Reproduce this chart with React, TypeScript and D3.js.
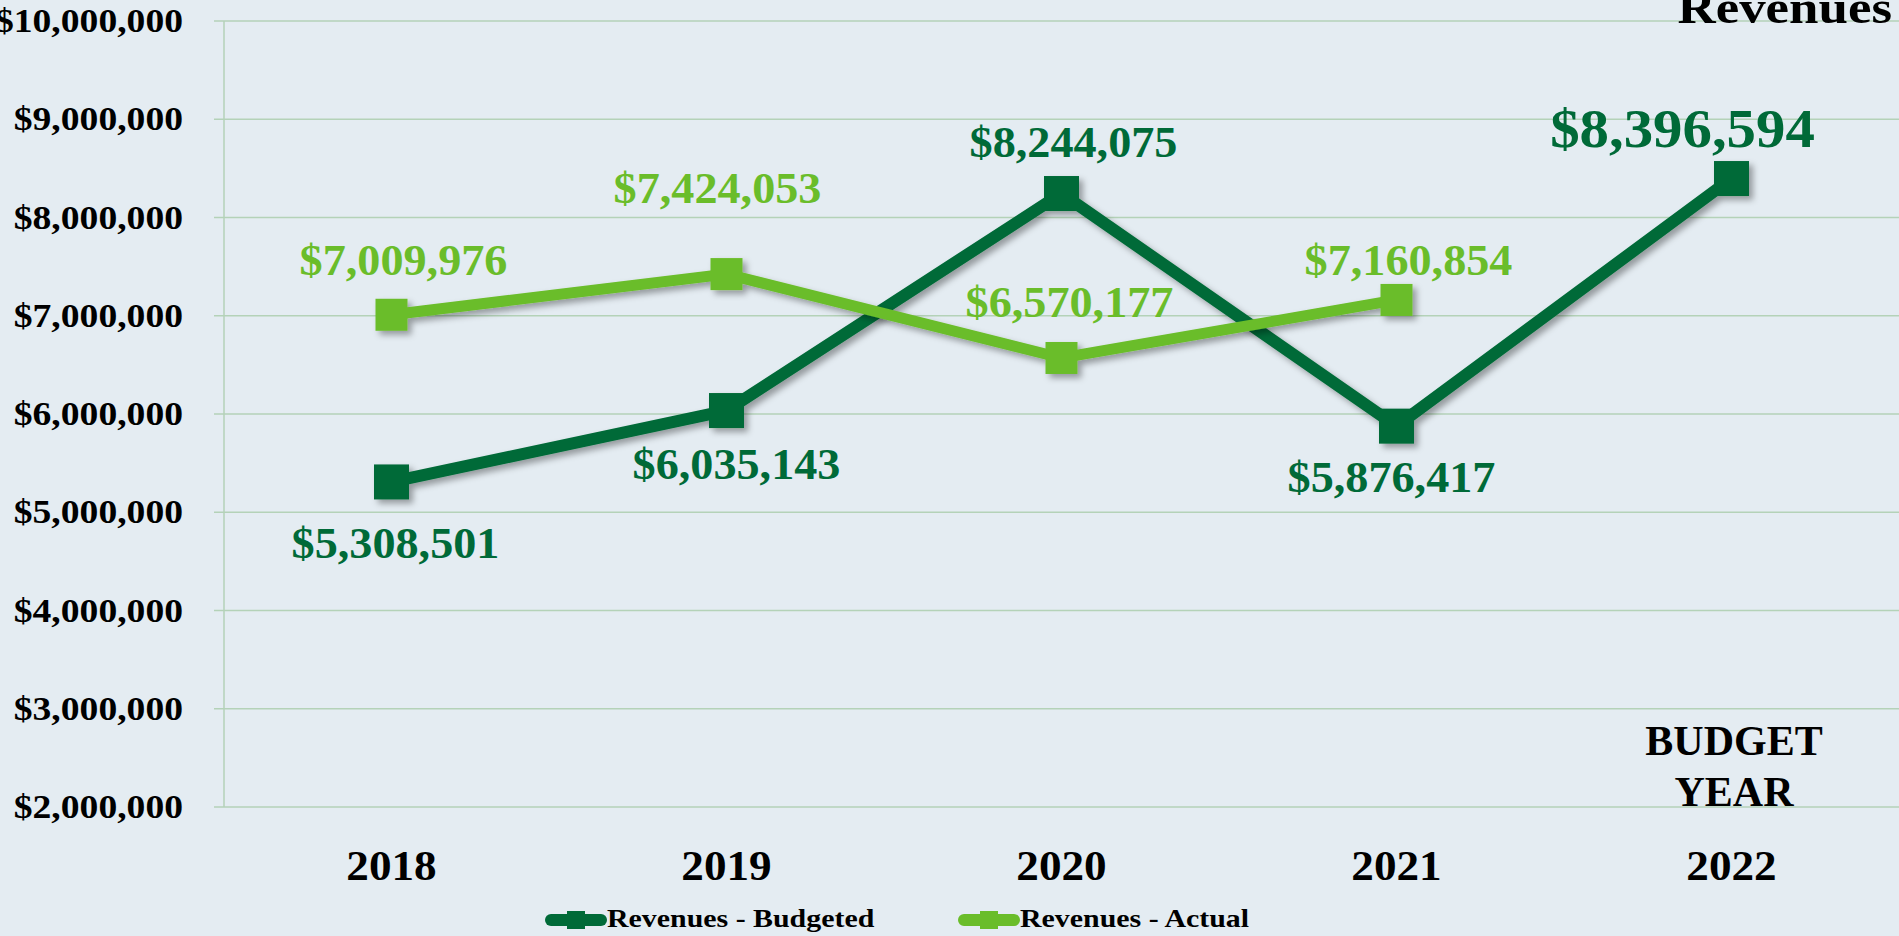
import React from 'react';
import { scaleLinear, scalePoint, line, format } from 'd3';

const years = ['2018', '2019', '2020', '2021', '2022'];
const budgeted = [5308501, 6035143, 8244075, 5876417, 8396594];
const actual = [7009976, 7424053, 6570177, 7160854];
const yTicks = [2000000, 3000000, 4000000, 5000000, 6000000, 7000000, 8000000, 9000000, 10000000];
const seriesNames = ['Revenues - Budgeted', 'Revenues - Actual'];

// label placement relative to each point (layout only)
const budgetedLabelOffsets = [[4, 76], [10, 68], [12, -37], [-5, 66], [-49, -32]];
const actualLabelOffsets = [[12, -40], [-9, -71], [8, -41], [12, -25]];

const W = 1899;
const H = 936;
const DARK = '#006a38';
const LIGHT = '#6abd2a';
const BG = '#e4ecf2';
const GRID = '#b4d2b8';
const FONT = '"Liberation Serif", "Times New Roman", serif';

const money = format('$,');

interface STextProps {
  x: number;
  y: number;
  size: number;
  sx?: number;
  anchor?: 'start' | 'middle' | 'end';
  fill?: string;
  children: React.ReactNode;
}

function SText({ x, y, size, sx = 1, anchor = 'middle', fill = '#000', children }: STextProps) {
  return (
    <text
      transform={`translate(${x},${y}) scale(${sx},1)`}
      fontFamily={FONT}
      fontWeight="bold"
      fontSize={size}
      textAnchor={anchor}
      fill={fill}
    >
      {children}
    </text>
  );
}

export default function App() {
  const left = 224;
  const top = 21;
  const bottom = 807;

  const x = scalePoint<string>().domain(years).range([left, W]).padding(0.5);
  const y = scaleLinear().domain([2000000, 10000000]).range([bottom, top]);

  const budgetPts = budgeted.map((v, i) => [x(years[i]) as number, y(v)] as [number, number]);
  const actualPts = actual.map((v, i) => [x(years[i]) as number, y(v)] as [number, number]);
  const path = line<[number, number]>();

  return (
    <svg width={W} height={H} style={{ position: 'absolute', left: 0, top: 0 }}>
      <defs>
        <filter id="shadow" x="-20%" y="-20%" width="140%" height="140%">
          <feDropShadow dx="4" dy="4" stdDeviation="3" floodColor="#000" floodOpacity="0.35" />
        </filter>
      </defs>
      <rect width={W} height={H} fill={BG} />

      {/* grid */}
      {yTicks.map((t) => (
        <line key={t} x1={214} x2={W} y1={y(t)} y2={y(t)} stroke={GRID} strokeWidth={1.5} />
      ))}
      <line x1={left} x2={left} y1={top} y2={bottom} stroke={GRID} strokeWidth={1.5} />

      {/* y axis labels */}
      {yTicks.map((t) => (
        <SText key={t} x={183} y={y(t) + 11} size={33} sx={1.14} anchor="end">
          {money(t)}
        </SText>
      ))}

      {/* x axis labels */}
      {years.map((yr) => (
        <SText key={yr} x={x(yr) as number} y={880} size={43} sx={1.05}>
          {yr}
        </SText>
      ))}
      <SText x={1734} y={755} size={42}>BUDGET</SText>
      <SText x={1734} y={806} size={42}>YEAR</SText>

      {/* title, clipped at top */}
      <SText x={1892} y={23} size={46} sx={1.15} anchor="end">Revenues</SText>

      {/* series */}
      <g filter="url(#shadow)">
        <path d={path(budgetPts) ?? ''} fill="none" stroke={DARK} strokeWidth={12} strokeLinejoin="miter" />
        {budgetPts.map(([px, py], i) => (
          <rect key={i} x={px - 17.5} y={py - 17.5} width={35} height={35} fill={DARK} />
        ))}
      </g>
      <g filter="url(#shadow)">
        <path d={path(actualPts) ?? ''} fill="none" stroke={LIGHT} strokeWidth={11} strokeLinejoin="miter" />
        {actualPts.map(([px, py], i) => (
          <rect key={i} x={px - 16} y={py - 16} width={32} height={32} fill={LIGHT} />
        ))}
      </g>

      {/* data labels */}
      {budgetPts.map(([px, py], i) => (
        <SText
          key={`bl-${i}`}
          x={px + budgetedLabelOffsets[i][0]}
          y={py + budgetedLabelOffsets[i][1]}
          size={i === budgeted.length - 1 ? 55 : 44}
          sx={i === budgeted.length - 1 ? 1.07 : 1.05}
          fill={DARK}
        >
          {money(budgeted[i])}
        </SText>
      ))}
      {actualPts.map(([px, py], i) => (
        <SText
          key={`al-${i}`}
          x={px + actualLabelOffsets[i][0]}
          y={py + actualLabelOffsets[i][1]}
          size={44}
          sx={1.05}
          fill={LIGHT}
        >
          {money(actual[i])}
        </SText>
      ))}

      {/* legend */}
      {[
        { name: seriesNames[0], color: DARK, x0: 545, tx: 607 },
        { name: seriesNames[1], color: LIGHT, x0: 958, tx: 1020 },
      ].map((d) => (
        <g key={d.name}>
          <line x1={d.x0 + 6} x2={d.x0 + 56} y1={920} y2={920} stroke={d.color} strokeWidth={12} strokeLinecap="round" />
          <rect x={d.x0 + 22} y={911} width={18} height={18} fill={d.color} />
          <SText x={d.tx} y={927} size={26} sx={1.15} anchor="start">{d.name}</SText>
        </g>
      ))}
    </svg>
  );
}
